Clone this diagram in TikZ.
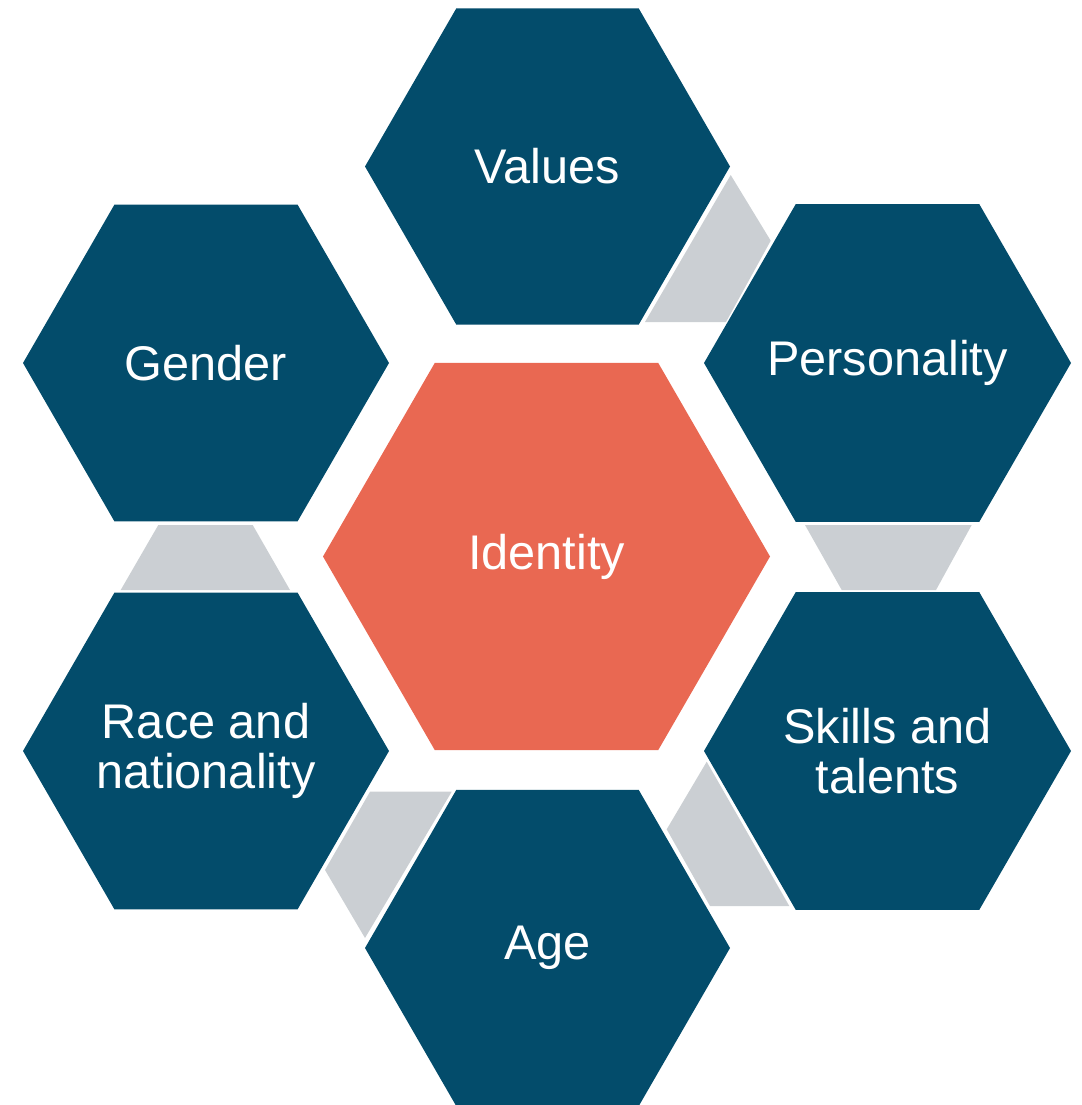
\documentclass[tikz,border=0pt]{standalone}
\usepackage{fontspec}
\setmainfont{Liberation Sans}
\usetikzlibrary{calc}

\definecolor{cellblue}{HTML}{034C6B}
\definecolor{corered}{HTML}{E96852}
\definecolor{linkgray}{HTML}{CBCFD3}

\tikzset{
	cell/.style={fill=cellblue},
	core/.style={fill=corered},
	link/.style={fill=linkgray},
	hexlabel/.style={text=white, align=center, inner sep=0pt, font=\fontsize{36.5}{37.5}\selectfont}
}

% flat-topped hexagon: style, centre, radius
\newcommand{\hexcell}[3]{%
	\fill[#1, shift={(#2)}] (0:#3) \foreach \a in {60,120,...,300} { -- (\a:#3) } -- cycle;
}

\begin{document}
\begin{tikzpicture}[x=0.75pt, y=-0.75pt]
	\useasboundingbox (0,0) rectangle (1081,1105);

	% centres
	\coordinate (cIdentity) at (546.5,556.5);
	\coordinate (cValues) at (547.5,166.5);
	\coordinate (cGender) at (206,363);
	\coordinate (cPersonality) at (887.5,363);
	\coordinate (cRace) at (206,751);
	\coordinate (cSkills) at (887.5,751);
	\coordinate (cAge) at (547.5,948);

	% gray links between the outer cells
	\fill[link] (730.7,175) -- (770.7,240.7) -- (726,322) -- (645,322) -- cycle; % values - personality
	\fill[link] (805,525) -- (971.7,525) -- (936,590) -- (841.7,590) -- cycle; % personality - skills
	\fill[link] (706.7,761.7) -- (666.7,829.3) -- (710,906) -- (789.3,906) -- cycle; % skills - age
	\fill[link] (370,791.7) -- (451.7,791.7) -- (365,938) -- (325,870) -- cycle; % age - race
	\fill[link] (158.3,525) -- (252.7,525) -- (290,590) -- (120.7,590) -- cycle; % race - gender

	% cells
	\hexcell{core}{cIdentity}{223.5}
	\hexcell{cell}{cValues}{182.5}
	\hexcell{cell}{cGender}{183}
	\hexcell{cell}{cPersonality}{183.5}
	\hexcell{cell}{cRace}{183}
	\hexcell{cell}{cSkills}{183.5}
	\hexcell{cell}{cAge}{182.5}

	% labels
	\node[hexlabel] (identity) at (cIdentity) {Identity};
	\node[hexlabel] (values) at (cValues) {Values};
	\node[hexlabel] (gender) at (cGender) {Gender};
	\node[hexlabel] (personality) at (cPersonality) {Personality};
	\node[hexlabel] (race) at (cRace) {Race and\\nationality};
	\node[hexlabel] (skills) at (cSkills) {Skills and\\talents};
	\node[hexlabel] (age) at (cAge) {Age};

\end{tikzpicture}
\end{document}
